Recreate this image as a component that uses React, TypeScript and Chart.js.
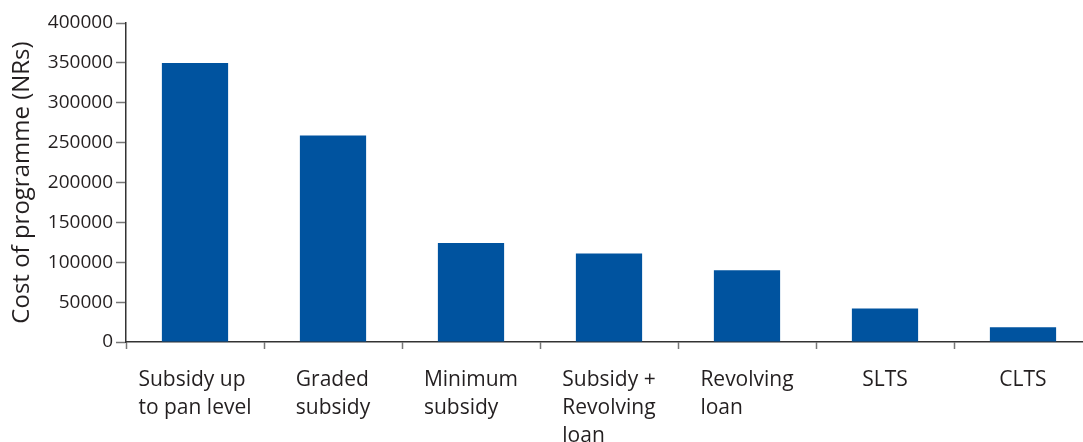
import React, { useEffect, useRef } from "react";
import { Chart, registerables } from "chart.js";

Chart.register(...registerables);

const categories: string[][] = [
  ["Subsidy up", "to pan level"],
  ["Graded", "subsidy"],
  ["Minimum", "subsidy"],
  ["Subsidy +", "Revolving", "loan"],
  ["Revolving", "loan"],
  ["SLTS"],
  ["CLTS"],
];
const costValues: number[] = [350000, 259000, 124000, 111000, 90000, 42000, 18500];
const yTickMin = 0;
const yTickMax = 400000;
const yTickStep = 50000;
const yTitle = "Cost of programme (NRs)";

const FONT = "'Open Sans', 'Noto Sans', sans-serif";
const TEXT = "#231f20";
const BAR = "#00539f";

// Lines of each x label left-aligned inside a block centred on the category
const leftAlignLabels = {
  id: "leftAlignLabels",
  beforeDraw(chart: any) {
    const scale = chart.scales.x;
    const items = scale.getLabelItems(chart.chartArea);
    if ((items as any).__leftAligned) return;
    const ctx = chart.ctx;
    items.forEach((item: any) => {
      const lines = Array.isArray(item.label) ? item.label : [item.label];
      ctx.save();
      ctx.font = item.font.string;
      const w = Math.max(...lines.map((l: string) => ctx.measureText(l).width));
      ctx.restore();
      item.options.translation[0] -= w / 2;
      item.options.textAlign = "left";
    });
    (items as any).__leftAligned = true;
  },
};

export default function App() {
  const ref = useRef<HTMLCanvasElement | null>(null);

  useEffect(() => {
    if (!ref.current) return;
    const chart = new Chart(ref.current, {
      type: "bar",
      data: {
        labels: categories,
        datasets: [
          {
            data: costValues,
            backgroundColor: BAR,
            borderWidth: 0,
            barPercentage: 0.48,
            categoryPercentage: 1,
          },
        ],
      },
      options: {
        responsive: false,
        animation: false,
        layout: { padding: { top: 23, right: 8, left: 0, bottom: 0 } },
        plugins: {
          legend: { display: false },
          tooltip: { enabled: false },
        },
        scales: {
          x: {
            offset: true,
            grid: {
              offset: true,
              drawOnChartArea: false,
              drawTicks: true,
              tickLength: 7,
              tickColor: "#777",
              tickWidth: 1.5,
            },
            border: { display: true, color: "#333", width: 1.5 },
            ticks: {
              autoSkip: false,
              maxRotation: 0,
              minRotation: 0,
              padding: 17,
              color: TEXT,
              font: { family: FONT, size: 21, lineHeight: 1.33 },
            },
            afterFit(scale: any) {
              scale.height = 100;
            },
          },
          y: {
            min: yTickMin,
            max: yTickMax,
            grid: {
              drawOnChartArea: false,
              drawTicks: true,
              tickLength: 10,
              tickColor: "#777",
              tickWidth: 1.5,
            },
            border: { display: true, color: "#333", width: 1.5 },
            ticks: {
              stepSize: yTickStep,
              padding: 3,
              color: TEXT,
              font: { family: FONT, size: 19 },
              callback: (v: any) => String(v),
            },
            title: {
              display: true,
              text: yTitle,
              color: TEXT,
              padding: { top: 8, bottom: 4 },
              font: { family: FONT, size: 24, lineHeight: 1.2 },
            },
            afterFit(scale: any) {
              scale.width = 126;
            },
          },
        },
      },
      plugins: [leftAlignLabels],
    });
    return () => chart.destroy();
  }, []);

  return (
    <div
      style={{
        position: "fixed",
        left: 0,
        top: 0,
        width: 1083,
        height: 442,
        overflow: "hidden",
        background: "#fff",
      }}
    >
      <canvas ref={ref} width={1100} height={442} style={{ display: "block" }} />
    </div>
  );
}
